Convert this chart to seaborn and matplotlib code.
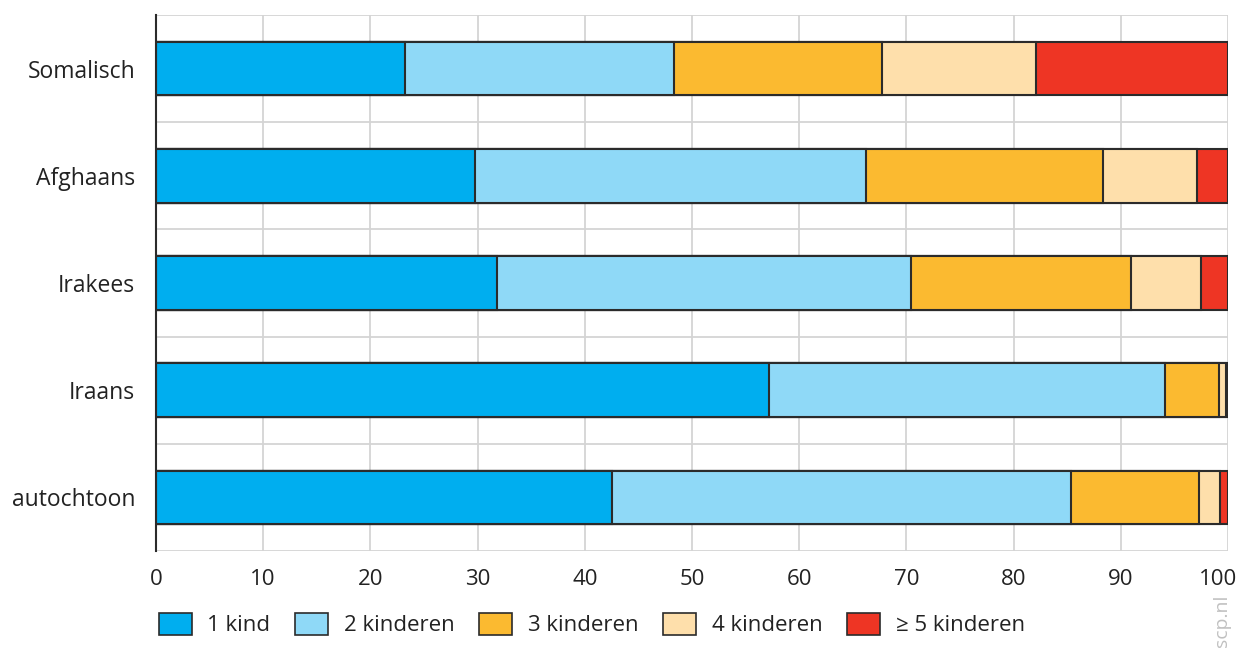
import pandas as pd
import matplotlib
matplotlib.use('Agg')
import matplotlib.pyplot as plt
import matplotlib.transforms as mtransforms
from matplotlib.patches import Patch
import seaborn as sns

groepen = ['Somalisch', 'Afghaans', 'Irakees', 'Iraans', 'autochtoon']
reeksen = ['1 kind', '2 kinderen', '3 kinderen', '4 kinderen', '≥ 5 kinderen']
kind1 = [23.2, 29.8, 31.8, 57.2, 42.5]
kind2 = [25.1, 36.4, 38.6, 36.9, 42.9]
kind3 = [19.4, 22.1, 20.6, 5.1, 11.9]
kind4 = [14.4, 8.8, 6.5, 0.6, 2.0]
kind5 = [17.9, 2.9, 2.5, 0.2, 0.7]
kleuren = ['#00aeef', '#8fd9f7', '#fbba30', '#fedfab', '#ee3524']

data = pd.DataFrame({'groep': groepen, reeksen[0]: kind1, reeksen[1]: kind2,
                     reeksen[2]: kind3, reeksen[3]: kind4, reeksen[4]: kind5})
cum = data[reeksen].cumsum(axis=1)

sns.set_style('white')
plt.rcParams['font.family'] = ['Open Sans', 'DejaVu Sans']

fig = plt.figure(figsize=(12.37, 6.48), dpi=100)
ax = fig.add_axes([0.1261, 0.1497, 0.8666, 0.8272])

# gestapeld: eerst de totalen, dan steeds kleinere cumulatieven eroverheen
for i in range(len(reeksen) - 1, -1, -1):
    sns.barplot(x=cum[reeksen[i]], y=data['groep'], orient='h', color=kleuren[i],
                saturation=1, width=0.5, edgecolor='#2b2b2b', linewidth=1.5, ax=ax)

ax.set_xlim(0, 100)
ax.set_ylim(4.5, -0.5)
ax.set_xticks(range(0, 101, 10))
ax.set_yticks([-0.5, 0.5, 1.5, 2.5, 3.5, 4.5], minor=True)
ax.set_xlabel('')
ax.set_ylabel('')
ax.grid(axis='x', color='#d4d4d4', linewidth=1.3)
ax.grid(axis='y', which='minor', color='#d4d4d4', linewidth=1.3)
ax.set_axisbelow(True)
for s in ['top', 'right', 'bottom']:
    ax.spines[s].set_visible(False)
ax.spines['left'].set_color('#2b2b2b')
ax.spines['left'].set_linewidth(1.5)
ax.tick_params(axis='both', which='both', length=0, colors='#222222')
ax.tick_params(axis='x', pad=13, labelsize=16)
ax.tick_params(axis='y', pad=15, labelsize=16.5)

# laatste label (100) iets naar links zodat het binnen de figuur valt
laatste = ax.get_xticklabels()[-1]
laatste.set_horizontalalignment('right')
laatste.set_transform(laatste.get_transform() +
                      mtransforms.ScaledTranslation(9 / 100, 0, fig.dpi_scale_trans))

handles = [Patch(facecolor=k, edgecolor='#2b2b2b', linewidth=1.2) for k in kleuren]
fig.legend(handles, reeksen, loc='lower left', bbox_to_anchor=(0.112, -0.013), ncol=5,
           frameon=False, fontsize=16, handlelength=1.5, handleheight=1.1,
           handletextpad=0.7, columnspacing=1.1, labelcolor='#222222')

fig.text(0.988, 0.042, 'scp.nl', rotation=90, color='#c0c0c0', fontsize=14,
         ha='center', va='center')

fig.savefig('out.png', dpi=100)
